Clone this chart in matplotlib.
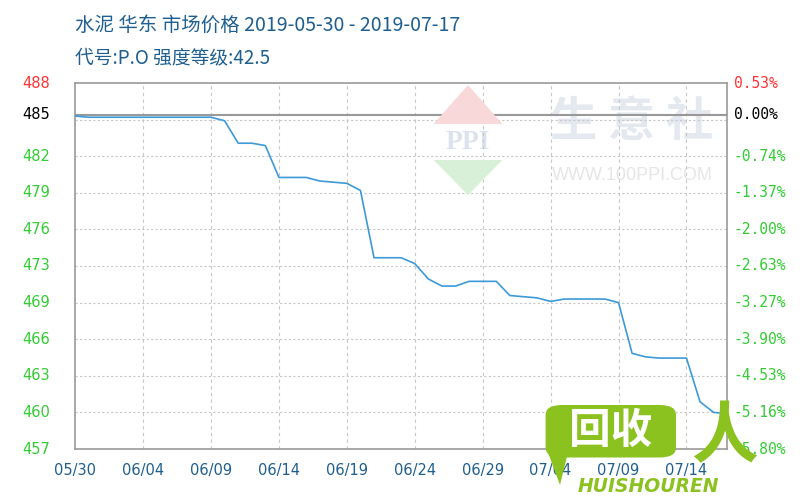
import matplotlib
matplotlib.use("Agg")
from matplotlib import pyplot as plt
from matplotlib.patches import FancyBboxPatch, Polygon
import numpy as np

plt.rcParams['font.family'] = ['Noto Sans CJK SC', 'DejaVu Sans']

# daily prices, 2019-05-30 .. 2019-07-17
dates = ['05/30', '05/31', '06/01', '06/02', '06/03', '06/04', '06/05', '06/06', '06/07', '06/08',
         '06/09', '06/10', '06/11', '06/12', '06/13', '06/14', '06/15', '06/16', '06/17', '06/18',
         '06/19', '06/20', '06/21', '06/22', '06/23', '06/24', '06/25', '06/26', '06/27', '06/28',
         '06/29', '06/30', '07/01', '07/02', '07/03', '07/04', '07/05', '07/06', '07/07', '07/08',
         '07/09', '07/10', '07/11', '07/12', '07/13', '07/14', '07/15', '07/16', '07/17']
prices = [485.2, 485.1, 485.1, 485.1, 485.1, 485.1, 485.1, 485.1, 485.1, 485.1,
          485.1, 484.8, 482.9, 482.9, 482.7, 480.0, 480.0, 480.0, 479.7, 479.6,
          479.5, 478.9, 473.2, 473.2, 473.2, 472.7, 471.4, 470.8, 470.8, 471.2,
          471.2, 471.2, 470.0, 469.9, 469.8, 469.5, 469.7, 469.7, 469.7, 469.7,
          469.4, 465.1, 464.8, 464.7, 464.7, 464.7, 461.0, 460.1, 460.0]

base = 485.3
ymin, ymax = 457, 488
left_labels = ['457', '460', '463', '466', '469', '473', '476', '479', '482']
right_labels = ['-5.80%', '-5.16%', '-4.53%', '-3.90%', '-3.27%', '-2.63%', '-2.00%', '-1.37%', '-0.74%']
xtick_labels = ['05/30', '06/04', '06/09', '06/14', '06/19', '06/24', '06/29', '07/04', '07/09', '07/14']

green = '#33cc33'
blue_txt = '#1f5f8f'

fig = plt.figure(figsize=(8, 5), dpi=100)
ax = fig.add_axes([0.094, 0.102, 0.815, 0.732])

x = np.arange(len(prices))
grid_y = np.linspace(ymin, ymax, 11)
xt = [dates.index(d) for d in xtick_labels]

ax.set_xlim(0, len(prices) - 1)
ax.set_ylim(ymin, ymax)

for gy in grid_y[1:-1]:
    ax.axhline(gy, color='#c8c8c8', lw=0.8, ls=(0, (2, 2)), zorder=1)
for gx in xt[1:]:
    ax.axvline(gx, color='#c8c8c8', lw=0.8, ls=(0, (3, 3)), zorder=1)
ax.axhline(base, color='#999999', lw=1.5, zorder=2)

# watermark 100ppi
fig.patches.append(Polygon([[0.542, 0.752], [0.585, 0.83], [0.628, 0.752]], closed=True,
                           transform=fig.transFigure, fc='#f8d8d8', ec='none', zorder=0))
fig.patches.append(Polygon([[0.542, 0.68], [0.585, 0.61], [0.628, 0.68]], closed=True,
                           transform=fig.transFigure, fc='#d8f0d8', ec='none', zorder=0))
ax.text(0.585, 0.715, 'PPI', transform=fig.transFigure, fontsize=20, color='#dde3ee',
        ha='center', va='center', family='Liberation Serif', fontweight='bold', zorder=0)
ax.text(0.79, 0.755, '生 意 社', transform=fig.transFigure, fontsize=34, color='#e4e8ef',
        ha='center', va='center', fontweight='bold', zorder=0)
ax.text(0.79, 0.648, 'WWW.100PPI.COM', transform=fig.transFigure, fontsize=13, color='#e6e6e6',
        ha='center', va='center', family='Liberation Sans', zorder=0)

ax.plot(x, prices, color='#3d9ad9', lw=1.2, zorder=3)

for s in ax.spines.values():
    s.set_color('#999999')
    s.set_linewidth(1.2)

ax.set_yticks([])
ax.set_xticks(xt)
ax.set_xticklabels(xtick_labels, color=blue_txt, fontsize=10.5, family='Liberation Sans Narrow')
ax.tick_params(axis='x', length=0, pad=10)

# left labels
for gy, lab in zip(grid_y[:-2], left_labels):
    ax.text(-0.06, gy, lab, transform=ax.get_yaxis_transform(), color=green, fontsize=10.5,
            ha='center', va='center', family='Liberation Sans Narrow')
ax.text(-0.06, ymax, '488', transform=ax.get_yaxis_transform(), color='#ff3333', fontsize=10.5,
        ha='center', va='center', family='Liberation Sans Narrow')
ax.text(-0.06, base, '485', transform=ax.get_yaxis_transform(), color='black', fontsize=10.5,
        ha='center', va='center', family='Liberation Sans Narrow')

# right labels
for gy, lab in zip(grid_y[:-2], right_labels):
    ax.text(1.01, gy, lab, transform=ax.get_yaxis_transform(), color=green, fontsize=10.5,
            ha='left', va='center', family='DejaVu Sans Mono')
ax.text(1.01, ymax, '0.53%', transform=ax.get_yaxis_transform(), color='#ff3333', fontsize=10.5,
        ha='left', va='center', family='DejaVu Sans Mono')
ax.text(1.01, base, '0.00%', transform=ax.get_yaxis_transform(), color='black', fontsize=10.5,
        ha='left', va='center', family='DejaVu Sans Mono')

fig.text(0.094, 0.95, '水泥 华东 市场价格 2019-05-30 - 2019-07-17', color=blue_txt,
         fontsize=14, ha='left', va='center')
fig.text(0.094, 0.884, '代号:P.O 强度等级:42.5', color=blue_txt,
         fontsize=13.5, ha='left', va='center')

# huishouren overlay logo
lg = '#8cc21f'
fig.patches.append(FancyBboxPatch((0.682, 0.085), 0.163, 0.105, boxstyle='round,pad=0,rounding_size=0.02',
                                  transform=fig.transFigure, fc=lg, ec='none', zorder=5))
fig.patches.append(Polygon([[0.685, 0.095], [0.71, 0.095], [0.70, 0.03]], closed=True,
                           transform=fig.transFigure, fc=lg, ec='none', zorder=5))
fig.text(0.763, 0.138, '回收', color='white', fontsize=30, fontweight='bold',
         ha='center', va='center', zorder=6)
fig.text(0.81, 0.028, 'HUISHOUREN', color=lg, fontsize=13.5, fontweight='bold', style='italic',
         ha='center', va='center', family='DejaVu Sans', zorder=6)
fig.text(0.905, 0.125, '人', color=lg, fontsize=48, fontweight='bold',
         ha='center', va='center', zorder=6)

fig.savefig('out.png', dpi=100)
